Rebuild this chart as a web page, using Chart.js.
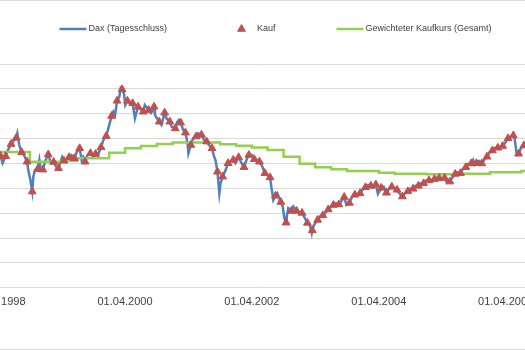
<!DOCTYPE html>
<html lang="de">
<head>
<meta charset="utf-8">
<title>Dax Sparplan</title>
<script src="https://cdn.jsdelivr.net/npm/chart.js@4.4.1/dist/chart.umd.min.js"></script>
<style>
  html, body { margin: 0; padding: 0; overflow: hidden; background: #fff; }
  #frame { position: relative; width: 525px; height: 350px; overflow: hidden;
           box-shadow: inset 0 1px #d9d9d9, inset 0 -1px #d9d9d9; }
  #chart { position: absolute; left: -60px; top: 0; }
</style>
</head>
<body>
<div id="frame"><canvas id="chart" width="671" height="350"></canvas></div>
<script>
'use strict';

// Dax Tagesschluss zwischen den Kaufterminen
var daxDates = [
  '1998-04-08','1998-04-27','1998-05-28','1998-07-21','1998-08-01','1998-08-28','1998-09-22','1998-10-02',
  '1998-10-21','1998-10-31','1998-11-25','1998-12-03','1998-12-27','1999-01-25','1999-02-04','1999-03-01',
  '1999-03-24','1999-04-05','1999-04-27','1999-05-29','1999-06-28','1999-07-26','1999-08-05','1999-08-29',
  '1999-10-02','1999-10-28','1999-11-28','1999-12-27','2000-01-25','2000-02-04','2000-02-28','2000-03-07',
  '2000-03-26','2000-04-03','2000-04-29','2000-05-28','2000-06-25','2000-07-24','2000-08-28','2000-09-20',
  '2000-10-01','2000-10-28','2000-11-26','2000-12-25','2001-01-27','2001-02-05','2001-03-02','2001-03-27',
  '2001-04-01','2001-04-28','2001-05-27','2001-07-01','2001-07-28','2001-08-27','2001-09-04','2001-09-26',
  '2001-10-03','2001-11-01','2001-11-25','2001-12-28','2002-02-01','2002-03-01','2002-04-01','2002-04-29',
  '2002-06-01','2002-06-26','2002-07-25','2002-08-03','2002-08-26','2002-09-26','2002-10-05','2002-10-19',
  '2002-10-28','2002-11-26','2002-12-31','2003-01-26','2003-03-01','2003-03-12','2003-03-25','2003-04-27',
  '2003-05-28','2003-07-01','2003-07-30','2003-08-28','2003-09-28','2003-10-30','2003-11-30','2003-12-30',
  '2004-01-30','2004-02-27','2004-03-27','2004-04-29','2004-05-26','2004-07-28','2004-08-30','2004-09-27',
  '2004-10-29','2004-11-30','2004-12-29','2005-01-30','2005-03-02','2005-03-28','2005-04-29','2005-05-28',
  '2005-06-29','2005-07-30','2005-08-28','2005-09-26','2005-10-05','2005-10-30','2005-11-28','2005-12-31',
  '2006-01-30','2006-02-27','2006-03-29','2006-05-03','2006-05-20','2006-06-03','2006-06-29','2006-07-28'
];
var daxValues = [
  5340, 5010, 5540, 6210, 5740, 5340, 4740, 4420,
  4470, 4740, 5140, 4740, 5070, 5140, 5010, 4870,
  5010, 5260, 5060, 5340, 5460, 5140, 5260, 5340,
  5260, 5340, 5940, 6410, 7080, 6950, 7680, 8030,
  7820, 7350, 7420, 6810, 7220, 7350, 7030, 6950,
  6830, 6550, 6810, 6480, 6670, 6750, 6350, 5810,
  5410, 6010, 6210, 5940, 5740, 5270, 5140, 3800,
  4200, 4740, 5070, 5010, 5010, 5140, 5340, 5140,
  4870, 4540, 3940, 3530, 3800, 3270, 2810, 2870,
  3200, 3270, 3000, 2870, 2530, 2200, 2530, 2870,
  3000, 3270, 3400, 3470, 3330, 3660, 3740, 3940,
  4140, 4020, 3780, 4070, 3940, 3800, 3800, 3980,
  4100, 4200, 4320, 4340, 4430, 4380, 4220, 4420,
  4640, 4780, 4980, 5140, 4940, 5100, 5140, 5460,
  5620, 5660, 5820, 6100, 6165, 5420, 5620, 5700
];

// Sparplan: ein Kauf zur Monatsmitte
var kaufDates = [
  '1998-04-15','1998-05-15','1998-06-15','1998-07-15','1998-08-15','1998-09-15','1998-10-15','1998-11-15','1998-12-15',
  '1999-01-15','1999-02-15','1999-03-15','1999-04-15','1999-05-15','1999-06-15','1999-07-15','1999-08-15','1999-09-15','1999-10-15','1999-11-15','1999-12-15',
  '2000-01-15','2000-02-15','2000-03-15','2000-04-15','2000-05-15','2000-06-15','2000-07-15','2000-08-15','2000-09-15','2000-10-15','2000-11-15','2000-12-15',
  '2001-01-15','2001-02-15','2001-03-15','2001-04-15','2001-05-15','2001-06-15','2001-07-15','2001-08-15','2001-09-15','2001-10-15','2001-11-15','2001-12-15',
  '2002-01-15','2002-02-15','2002-03-15','2002-04-15','2002-05-15','2002-06-15','2002-07-15','2002-08-15','2002-09-15','2002-10-15','2002-11-15','2002-12-15',
  '2003-01-15','2003-02-15','2003-03-15','2003-04-15','2003-05-15','2003-06-15','2003-07-15','2003-08-15','2003-09-15','2003-10-15','2003-11-15','2003-12-15',
  '2004-01-15','2004-02-15','2004-03-15','2004-04-15','2004-05-15','2004-06-15','2004-07-15','2004-08-15','2004-09-15','2004-10-15','2004-11-15','2004-12-15',
  '2005-01-15','2005-02-15','2005-03-15','2005-04-15','2005-05-15','2005-06-15','2005-07-15','2005-08-15','2005-09-15','2005-10-15','2005-11-15','2005-12-15',
  '2006-01-15','2006-02-15','2006-03-15','2006-04-15','2006-05-15','2006-06-15','2006-07-15'
];
var kaufValues = [
  5300, 5290, 5780, 6030, 5450, 5070, 3870, 4770, 4750,
  5360, 5060, 4810, 5110, 5250, 5210, 5610, 5070, 5410, 5380, 5650, 6100,
  6910, 7520, 7980, 7520, 7420, 7280, 7080, 7150, 7280, 6680, 7040, 6680,
  6410, 6640, 6240, 5740, 6080, 6150, 5880, 5610, 4670, 4470, 5010, 5140,
  5250, 4850, 5340, 5170, 5070, 4610, 4440, 3700, 3450, 2620, 3090, 3090,
  3010, 2610, 2310, 2730, 2910, 3150, 3330, 3350, 3650, 3410, 3740, 3800,
  4040, 4100, 4150, 4020, 3820, 4060, 3940, 3670, 3880, 3980, 4100, 4200,
  4320, 4370, 4410, 4420, 4270, 4580, 4610, 4850, 5000, 5010, 5000, 5270,
  5520, 5630, 5700, 6010, 6120, 5390, 5720
];

// gewichteter Kaufkurs, wird quartalsweise neu berechnet
var avgDates = [
  '1998-04-01','1998-07-01','1998-10-01','1999-01-01','1999-04-01','1999-07-01','1999-10-01',
  '2000-01-01','2000-04-01','2000-07-01','2000-10-01','2001-01-01','2001-04-01','2001-07-01','2001-10-01',
  '2002-01-01','2002-04-01','2002-07-01','2002-10-01','2003-01-01','2003-04-01','2003-07-01','2003-10-01',
  '2004-01-01','2004-04-01','2004-07-01','2004-10-01','2005-01-01','2005-04-01','2005-07-01','2005-10-01',
  '2006-01-01','2006-04-01','2006-07-01','2006-10-01'
];
var avgValues = [
  5460, 5460, 5070, 5070, 5110, 5210, 5210,
  5430, 5610, 5700, 5780, 5840, 5840, 5840, 5770,
  5710, 5640, 5540, 5270, 4990, 4850, 4770, 4700,
  4700, 4630, 4590, 4590, 4570, 4570, 4590, 4590,
  4650, 4650, 4700, 4700
];

// Achsen
var xRange = ['1997-08-25', '2007-03-09'];
var xTickDates = ['1998-04-01', '2000-04-01', '2002-04-01', '2004-04-01', '2006-04-01'];
var yMax = 9000;
var yStep = 1000;

function dayNum(s) {
  var p = s.split('-');
  return Date.UTC(+p[0], +p[1] - 1, +p[2]) / 864e5;
}
function pad(n) { return n < 10 ? '0' + n : '' + n; }
function fmtDay(n) {
  var d = new Date(n * 864e5);
  return pad(d.getUTCDate()) + '.' + pad(d.getUTCMonth() + 1) + '.' + d.getUTCFullYear();
}
function points(dates, values) {
  return dates.map(function(d, i) { return { x: dayNum(d), y: values[i] }; });
}

var kauf = points(kaufDates, kaufValues);
// gekauft wird zum Tagesschluss, die Kaufpunkte liegen also auf der Dax-Linie
var daxLine = points(daxDates, daxValues).concat(kauf).sort(function(a, b) { return a.x - b.x; });
var avgLine = points(avgDates, avgValues);

var FONT = 'Liberation Sans, Arial, sans-serif';
var TEXT = '#404040';

// Legende als eine Zeile ueber dem Diagramm
var legendRow = {
  id: 'legendRow',
  afterDraw: function(chart) {
    var ctx = chart.ctx;
    var box = 27, gap = 2, spacing = 61, y = 29;
    ctx.save();
    ctx.font = '9px ' + FONT;
    var items = chart.data.datasets.map(function(ds) {
      return { ds: ds, w: box + gap + ctx.measureText(ds.label).width };
    });
    var total = items.reduce(function(s, it) { return s + it.w; }, 0) + spacing * (items.length - 1);
    var x = chart.width / 2 - total / 2;
    items.forEach(function(it) {
      var ds = it.ds;
      if (ds.showLine === false) {
        var cx = x + box / 2, r = ds.pointRadius;
        ctx.beginPath();
        ctx.moveTo(cx, y - r);
        ctx.lineTo(cx + r * Math.sin(2 * Math.PI / 3), y + r / 2);
        ctx.lineTo(cx - r * Math.sin(2 * Math.PI / 3), y + r / 2);
        ctx.closePath();
        ctx.fillStyle = ds.backgroundColor;
        ctx.strokeStyle = ds.borderColor;
        ctx.lineWidth = ds.borderWidth;
        ctx.fill();
        ctx.stroke();
      } else {
        ctx.beginPath();
        ctx.moveTo(x, y);
        ctx.lineTo(x + box, y);
        ctx.strokeStyle = ds.borderColor;
        ctx.lineWidth = ds.borderWidth;
        ctx.stroke();
      }
      ctx.fillStyle = TEXT;
      ctx.textBaseline = 'middle';
      ctx.fillText(ds.label, x + box + gap, y);
      x += it.w + spacing;
    });
    ctx.restore();
  }
};

new Chart(document.getElementById('chart'), {
  type: 'line',
  data: {
    datasets: [
      {
        label: 'Dax (Tagesschluss)',
        data: daxLine,
        borderColor: '#4F81BD',
        borderWidth: 2.5,
        pointRadius: 0,
        tension: 0,
        order: 3
      },
      {
        label: 'Kauf',
        data: kauf,
        showLine: false,
        pointStyle: 'triangle',
        pointRadius: 4.5,
        backgroundColor: '#C0504D',
        borderColor: '#C0504D',
        borderWidth: 1,
        order: 1
      },
      {
        label: 'Gewichteter Kaufkurs (Gesamt)',
        data: avgLine,
        stepped: true,
        borderColor: '#92D050',
        borderWidth: 2.5,
        pointRadius: 0,
        order: 2
      }
    ]
  },
  options: {
    responsive: false,
    animation: false,
    events: [],
    layout: { padding: { left: 20, right: 46, top: 64, bottom: 33 } },
    plugins: {
      legend: { display: false },
      tooltip: { enabled: false }
    },
    scales: {
      x: {
        type: 'linear',
        min: dayNum(xRange[0]),
        max: dayNum(xRange[1]),
        afterBuildTicks: function(axis) {
          axis.ticks = xTickDates.map(function(d) { return { value: dayNum(d) }; });
        },
        ticks: {
          callback: function(v) { return fmtDay(v); },
          autoSkip: false,
          maxRotation: 0,
          padding: 8,
          color: TEXT,
          font: { family: FONT, size: 11 }
        },
        grid: { display: false, drawTicks: false },
        border: { display: false }
      },
      y: {
        min: 0,
        max: yMax,
        ticks: { stepSize: yStep, display: false },
        grid: { color: '#D9D9D9', lineWidth: 1, drawTicks: false },
        border: { display: false }
      }
    }
  },
  plugins: [legendRow]
});
</script>
</body>
</html>
